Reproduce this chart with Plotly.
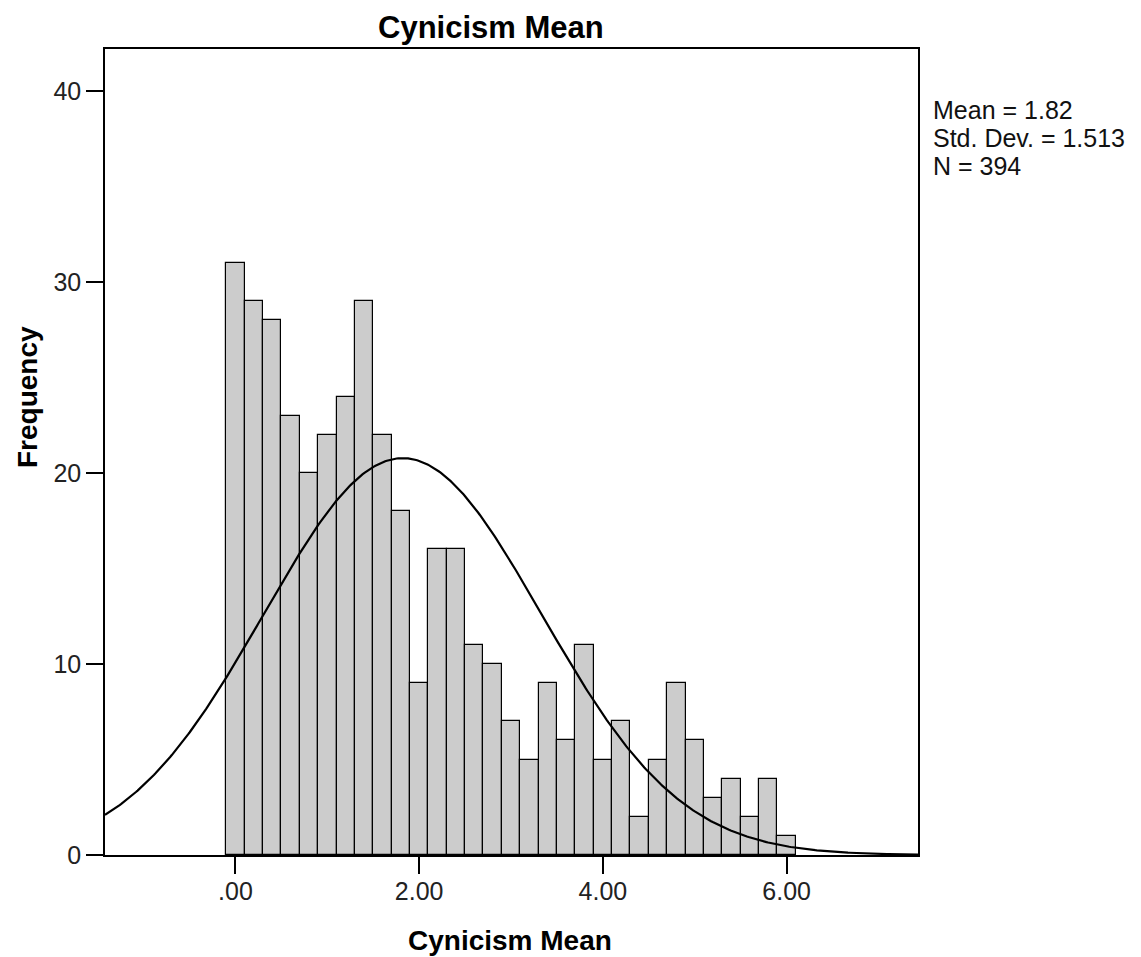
import numpy as np
import plotly.graph_objects as go

# Data
bin_centers = [0.0, 0.2, 0.4, 0.6, 0.8, 1.0, 1.2, 1.4, 1.6, 1.8, 2.0, 2.2, 2.4, 2.6, 2.8, 3.0,
               3.2, 3.4, 3.6, 3.8, 4.0, 4.2, 4.4, 4.6, 4.8, 5.0, 5.2, 5.4, 5.6, 5.8, 6.0]
counts = [31, 29, 28, 23, 20, 22, 24, 29, 22, 18, 9, 16, 16, 11, 10, 7,
          5, 9, 6, 11, 5, 7, 2, 5, 9, 6, 3, 4, 2, 4, 1]
bin_width = 0.2
mean_val = 1.82
sd_val = 1.513
n_val = 394
x_tickvals = [0, 2, 4, 6]
x_ticktext = [".00", "2.00", "4.00", "6.00"]
y_tickvals = [0, 10, 20, 30, 40]
stats_lines = ["Mean = 1.82", "Std. Dev. = 1.513", "N = 394"]

X_RANGE = [-1.42, 7.43]
Y_RANGE = [0, 42.2]

FONT = "Liberation Sans, Arial, sans-serif"

fig = go.Figure()
fig.add_trace(go.Bar(
    x=bin_centers, y=counts, width=bin_width,
    marker=dict(color="#cccccc", line=dict(color="#000000", width=1.2)),
    showlegend=False, hoverinfo="x+y"))

xc = np.linspace(X_RANGE[0], X_RANGE[1], 500)
yc = n_val * bin_width / (sd_val * np.sqrt(2 * np.pi)) * np.exp(-0.5 * ((xc - mean_val) / sd_val) ** 2)
fig.add_trace(go.Scatter(x=xc, y=yc, mode="lines", line=dict(color="#000000", width=2.2),
                         showlegend=False, hoverinfo="skip"))

W, H = 1141, 957
L, T = 105, 49
R = W - 918
B = H - 855
PW, PH = W - L - R, H - T - B

def fx(px):
    return (px - L) / PW

def fy(py):
    return (H - B - py) / PH

annotations = []
stats_y = [110, 138, 166]
for line, yy in zip(stats_lines, stats_y):
    annotations.append(dict(text=line, xref="paper", yref="paper",
                            x=fx(931), y=fy(yy),
                            xanchor="left", yanchor="middle", showarrow=False,
                            font=dict(family=FONT, size=25, color="#111111")))
annotations.append(dict(text="<b>Cynicism Mean</b>", xref="paper", yref="paper",
                        x=fx(491), y=fy(27), xanchor="center", yanchor="middle",
                        showarrow=False, font=dict(family=FONT, size=31, color="#000000")))
annotations.append(dict(text="<b>Cynicism Mean</b>", xref="paper", yref="paper",
                        x=fx(510), y=fy(940), xanchor="center", yanchor="middle",
                        showarrow=False, font=dict(family=FONT, size=28, color="#000000")))
annotations.append(dict(text="<b>Frequency</b>", xref="paper", yref="paper",
                        x=fx(27), y=fy(397), xanchor="center", yanchor="middle",
                        textangle=-90, showarrow=False,
                        font=dict(family=FONT, size=28, color="#000000")))

fig.update_layout(
    width=W, height=H,
    margin=dict(l=L, r=R, t=T, b=B, autoexpand=False),
    paper_bgcolor="white", plot_bgcolor="white",
    bargap=0,
    xaxis=dict(range=X_RANGE, tickvals=x_tickvals, ticktext=x_ticktext,
               ticks="outside", ticklen=17, tickwidth=1.5, tickcolor="#000000",
               showline=True, linecolor="#000000", linewidth=1.5, mirror=True,
               showgrid=False, zeroline=False, ticklabelstandoff=-4,
               tickfont=dict(family=FONT, size=25, color="#222222")),
    yaxis=dict(range=Y_RANGE, tickvals=y_tickvals,
               ticks="outside", ticklen=17, tickwidth=1.5, tickcolor="#000000",
               showline=True, linecolor="#000000", linewidth=1.5, mirror=True,
               showgrid=False, zeroline=False,
               tickfont=dict(family=FONT, size=25, color="#222222")),
    annotations=annotations,
)

fig.write_html("out.html", config={"displayModeBar": False},
               post_script="document.body.style.margin='0';")
